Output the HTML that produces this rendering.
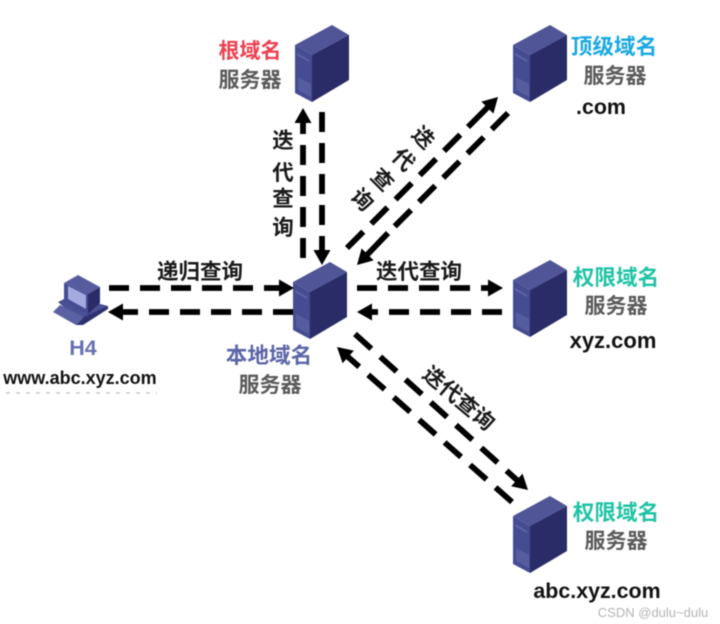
<!DOCTYPE html>
<html><head><meta charset="utf-8"><style>
html,body{margin:0;padding:0;background:#fff}
svg{display:block;filter:blur(0.6px)}
text{font-family:"Liberation Sans","Noto Sans CJK SC",sans-serif;font-weight:700;text-anchor:middle}
.cn{font-family:"Noto Sans CJK SC","Liberation Sans",sans-serif;font-size:21px}
.cn4{font-family:"Noto Sans CJK SC","Liberation Sans",sans-serif;font-size:21.6px}
.lab{font-family:"Noto Sans CJK SC","Liberation Sans",sans-serif;font-size:21.5px;fill:#1a1a1a}
.g{fill:#5a5a5a}
.d{stroke:#000;stroke-width:5.8;stroke-dasharray:20 11;fill:none}
.e{stroke:#000;stroke-width:5.8;stroke-dasharray:23 11.3;fill:none}
.f{stroke:#000;stroke-width:5.8;stroke-dasharray:22 12;fill:none}
.s{stroke:#000;stroke-width:5.8;fill:none}
</style></head><body>
<svg width="720" height="624" viewBox="0 0 720 624" xmlns="http://www.w3.org/2000/svg">
<defs>
<g id="srv">
<polygon points="0,20 37,0 54,10 17,30" fill="#4f5596"/>
<polygon points="17,30 54,10 54,55 17,77" fill="#2a2c67"/>
<polygon points="0,20 17,30 17,77 0,68" fill="#454c92"/>
<polygon points="2,28 14,35 14,37 2,30" fill="#5f67a5"/>
<polygon points="3,52 16,59 16,72 3,65" fill="#565d9f"/>
</g>
<g id="up"><polygon points="0,0 8.5,15 -8.5,15" fill="#000"/></g>
</defs>

<use href="#srv" x="295" y="25"/>
<use href="#srv" x="513" y="25"/>
<use href="#srv" x="293" y="262"/>
<use href="#srv" x="513" y="260"/>
<use href="#srv" x="513" y="496"/>

<!-- laptop -->
<polygon points="58,302 70,296 108,306 84,320 76,318" fill="#4a5094"/>
<polygon points="53,312 60,305 84,317 76,325" fill="#5a61a3"/>
<polygon points="76,325 84,317 108,306 108,309 83,325" fill="#2e3170"/>
<polygon points="64,283 78,275 100,287 88,294" fill="#565c9e"/>
<polygon points="64,283 88,294 88,314 64,302" fill="#454c92"/>
<polygon points="68,286 86,295 86,309 68,299" fill="#a4aae0"/>
<polygon points="88,294 100,287 100,303 88,314" fill="#2a2c67"/>

<!-- vertical -->
<line class="d" x1="303" y1="258" x2="303" y2="122"/>
<use href="#up" transform="translate(303,108)"/>
<line class="d" x1="322" y1="112" x2="322" y2="251"/>
<use href="#up" transform="translate(322,265) rotate(180)"/>

<!-- NE diagonals -->
<line class="e" x1="347" y1="248" x2="461" y2="134"/>
<line class="s" x1="468" y1="127" x2="490" y2="105"/>
<use href="#up" transform="translate(498,97) rotate(45)"/>
<line class="e" x1="508" y1="113" x2="388" y2="233"/>
<line class="s" x1="388" y1="233" x2="366" y2="256"/>
<use href="#up" transform="translate(357,265) rotate(225)"/>

<!-- left horizontals -->
<line class="d" x1="109" y1="288" x2="281" y2="288"/>
<use href="#up" transform="translate(294,288) rotate(90)"/>
<line class="d" x1="293" y1="312" x2="121" y2="312"/>
<use href="#up" transform="translate(108,312) rotate(-90)"/>

<!-- right horizontals -->
<line class="d" x1="357" y1="288" x2="490" y2="288"/>
<use href="#up" transform="translate(503,288) rotate(90)"/>
<line class="d" x1="502" y1="312" x2="370" y2="312"/>
<use href="#up" transform="translate(357,312) rotate(-90)"/>

<!-- SE diagonals -->
<line class="f" x1="355" y1="334" x2="518" y2="481"/>
<use href="#up" transform="translate(528,490) rotate(132)"/>
<line class="f" x1="512" y1="502" x2="347" y2="356"/>
<use href="#up" transform="translate(337,347) rotate(-48.5)"/>

<!-- server labels -->
<text class="cn" x="250" y="58" fill="#ee4050">根域名</text>
<text class="cn g" x="250" y="87">服务器</text>
<text class="cn4" x="614" y="54" fill="#19a9e0">顶级域名</text>
<text class="cn g" x="615" y="83">服务器</text>
<text x="601" y="114" font-size="21.4" fill="#111">.com</text>
<text class="cn4" x="616" y="285" fill="#1fc3a5">权限域名</text>
<text class="cn g" x="616" y="313">服务器</text>
<text x="613" y="348" font-size="22" fill="#111">xyz.com</text>
<text class="cn4" x="616" y="520" fill="#1fc3a5">权限域名</text>
<text class="cn g" x="616" y="548">服务器</text>
<text x="597" y="598" font-size="21.4" fill="#111">abc.xyz.com</text>
<text class="cn4" x="269" y="363" fill="#5c66a8">本地域名</text>
<text class="cn g" x="270" y="392">服务器</text>
<text x="83" y="355" font-size="21.5" fill="#6670b0">H4</text>
<text x="80" y="384" font-size="18" fill="#111">www.abc.xyz.com</text>
<line x1="6" y1="393" x2="157" y2="393" stroke="#c8c8c8" stroke-width="1.5" stroke-dasharray="4 6"/>

<!-- arrow labels -->
<text class="lab" x="200" y="279">递归查询</text>
<text class="lab" x="419" y="279">迭代查询</text>
<text class="lab" x="283" y="148">迭</text>
<text class="lab" x="283" y="180">代</text>
<text class="lab" x="283" y="206">查</text>
<text class="lab" x="283" y="235">询</text>
<text class="lab" transform="translate(418,143) rotate(45)">迭</text>
<text class="lab" transform="translate(398,165) rotate(45)">代</text>
<text class="lab" transform="translate(377,185) rotate(45)">查</text>
<text class="lab" transform="translate(357,205) rotate(45)">询</text>
<text class="lab" transform="translate(454,404) rotate(40)">迭代查询</text>

<text x="653" y="617" font-size="13" style="font-weight:400" fill="#b4b4b4">CSDN @dulu~dulu</text>
</svg>
</body></html>
